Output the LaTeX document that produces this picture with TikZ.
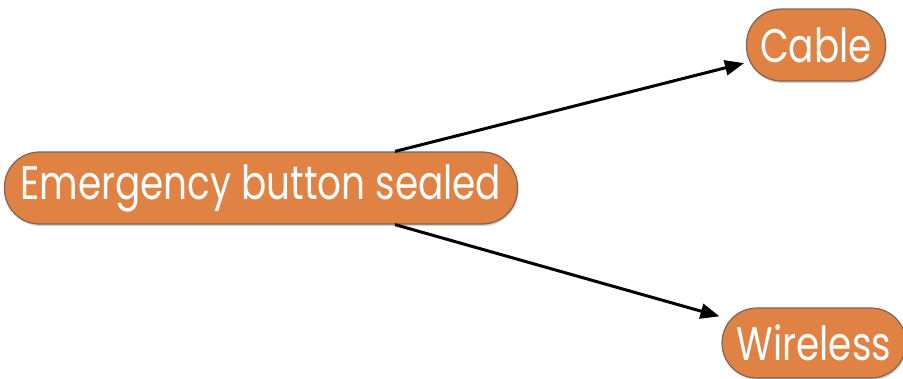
\documentclass[tikz,border=0pt]{standalone}
\usepackage{fontspec}
\setmainfont{Poppins}
\usetikzlibrary{arrows.meta,calc,shadows}
\definecolor{pill}{HTML}{DF8244}
\definecolor{pillborder}{HTML}{7E6453}
\begin{document}
\begin{tikzpicture}[x=1pt,y=-1pt,
  pillbox/.style={draw=pillborder,line width=1.2pt,fill=pill,rounded corners=35pt,
    text=white,inner sep=0pt,font=\fontsize{47}{50}\selectfont,
    drop shadow={shadow xshift=1pt,shadow yshift=-2pt,opacity=0.35}},
  conn/.style={line width=3pt,-{Triangle[length=19pt,width=15pt]},shorten >=2pt}]
\useasboundingbox (0,0) rectangle (903,378);
\node[pillbox,minimum width=513pt,minimum height=72pt] (main) at (261,188) {\scalebox{0.795}[1]{Emergency button sealed}};
\node[pillbox,minimum width=139pt,minimum height=72pt] (cable) at (816,45) {\scalebox{0.795}[1]{Cable}};
\node[pillbox,minimum width=184pt,minimum height=70pt] (wireless) at (814,343) {\scalebox{0.795}[1]{Wireless}};
\draw[conn] ([xshift=134pt]main.north) -- (cable);
\draw[conn] ([xshift=134pt]main.south) -- (wireless);
\end{tikzpicture}
\end{document}
